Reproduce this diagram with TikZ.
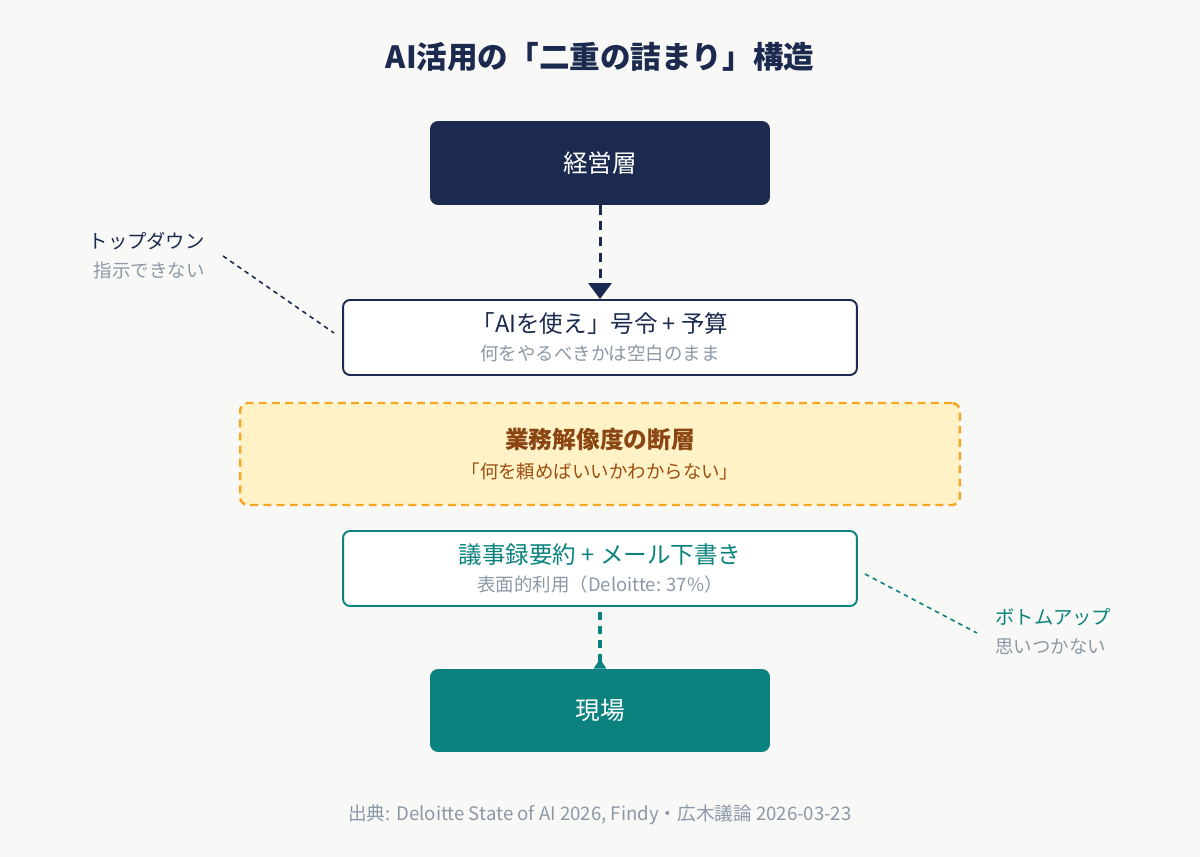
\documentclass[tikz,border=0pt]{standalone}
\usepackage{fontspec}
\setmainfont{Noto Sans CJK JP}
\usetikzlibrary{arrows.meta,positioning}
\definecolor{navy}{HTML}{1B2A4E}
\definecolor{tealc}{HTML}{0B827E}
\definecolor{greytext}{HTML}{8C98A8}
\definecolor{orangeline}{HTML}{F5A623}
\definecolor{orangefill}{HTML}{FFF2C6}
\definecolor{brownc}{HTML}{8B4513}
\definecolor{bgc}{HTML}{F8F8F6}
\begin{document}
\begin{tikzpicture}[x=0.02cm,y=-0.02cm,
  every node/.style={inner sep=0pt},
  layerbox/.style={rounded corners=0.16cm,minimum width=6.8cm,minimum height=1.68cm,
    text=white,font=\fontsize{14}{17}\selectfont},
  wordbox/.style={rounded corners=0.14cm,fill=white,line width=1.1pt,
    minimum width=10.28cm,minimum height=1.5cm,align=center,font=\fontsize{10.5}{16}\selectfont},
  note/.style={font=\fontsize{10.5}{16}\selectfont,align=left},
  hintline/.style={line width=0.9pt,dash pattern=on 2.6pt off 2.4pt}]
\useasboundingbox[fill=bgc] (0,0) rectangle (1200,857);

\node[font=\bfseries\fontsize{17.4}{20}\selectfont,text=navy] (title) at (600,57) {AI活用の「二重の詰まり」構造};

\node[layerbox,fill=navy] (exec) at (600,163) {経営層};
\node[wordbox,draw=navy] (order) at (600,337.5)
  {{\fontsize{13.4}{16}\selectfont\color{navy}「AIを使え」号令 + 予算}\\ \textcolor{greytext}{何をやるべきかは空白のまま}};
\node[rounded corners=0.16cm,fill=orangefill,draw=orangeline,line width=1.4pt,
  dash pattern=on 4.5pt off 3pt,minimum width=14.4cm,minimum height=2.04cm,
  align=center,font=\fontsize{10.5}{17}\selectfont] (gap) at (600,454)
  {{\bfseries\fontsize{13.5}{17}\selectfont\color{brownc}業務解像度の断層}\\ \textcolor{brownc!85!orange}{「何を頼めばいいかわからない」}};
\node[wordbox,draw=tealc] (usage) at (600,568.5)
  {{\fontsize{13.4}{16}\selectfont\color{tealc}議事録要約 + メール下書き}\\ \textcolor{greytext}{表面的利用（Deloitte: 37\%）}};
\node[layerbox,fill=tealc,minimum height=1.66cm] (field) at (600,710.5) {現場};

\draw[navy,line width=1.7pt,dash pattern=on 5.3pt off 3.7pt,
  -{Triangle[width=13pt,length=9pt]}] (exec) -- (order);
\draw[tealc,line width=1.9pt,dash pattern=on 4.6pt off 3.4pt,
  {Triangle[width=7pt,length=5.5pt,reversed]}-] (field) -- (usage);

% annotations
\node[note,anchor=east,text=navy,font=\fontsize{11}{14}\selectfont] (topdown) at (205,241) {トップダウン};
\node[note,anchor=east,text=greytext] (topdownsub) at (205,270) {指示できない};
\node[note,anchor=west,text=tealc,font=\fontsize{11}{14}\selectfont] (bottomup) at (995,617) {ボトムアップ};
\node[note,anchor=west,text=greytext] (bottomupsub) at (995,647) {思いつかない};
\coordinate (tdstart) at (223,256);
\coordinate (tdend) at (334,333);
\coordinate (bustart) at (865,574);
\coordinate (buend) at (977,633);
\draw[hintline,navy] (tdstart) -- (tdend);
\draw[hintline,tealc] (bustart) -- (buend);

\node[text=greytext,font=\fontsize{10.6}{12}\selectfont] (source) at (600,815)
  {出典: Deloitte State of AI 2026, Findy・広木議論 2026-03-23};
\end{tikzpicture}
\end{document}
